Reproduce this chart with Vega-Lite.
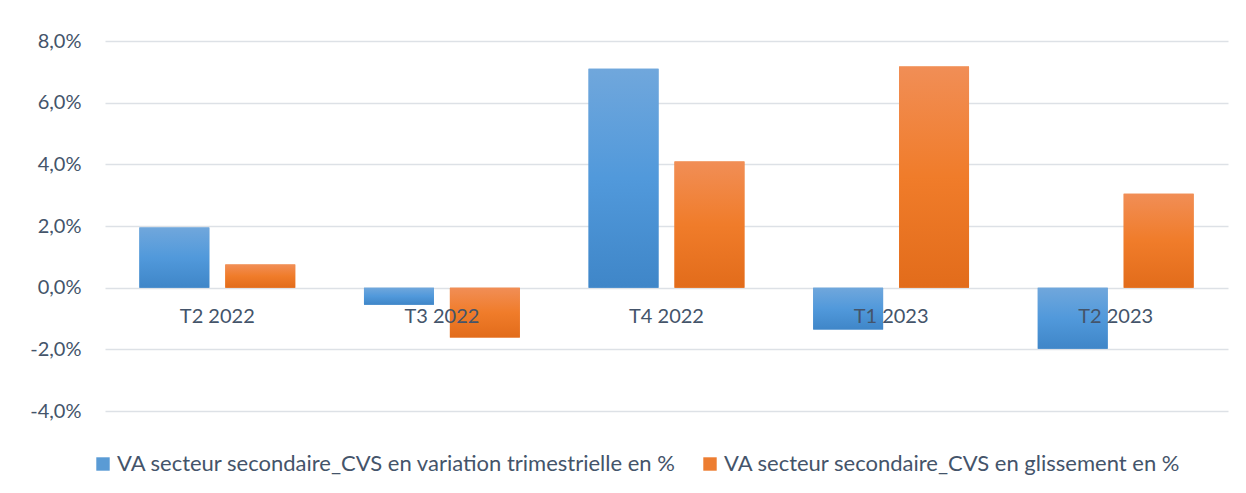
{
  "$schema": "https://vega.github.io/schema/vega-lite/v6.json",
  "width": 1123,
  "height": 370,
  "autosize": {"type": "none"},
  "padding": {"left": 105, "top": 41, "right": 18, "bottom": 82},
  "background": "white",
  "config": {
    "view": {"stroke": null},
    "font": "Lato",
    "axis": {"labelFont": "Lato", "labelColor": "#44546A", "labelFontSize": 20},
    "legend": {"labelFont": "Lato", "labelColor": "#44546A", "labelFontSize": 22}
  },
  "data": {
    "values": [
      {"quarter": "T2 2022", "series": "VA secteur secondaire_CVS en variation trimestrielle en %", "value": 1.95},
      {"quarter": "T2 2022", "series": "VA secteur secondaire_CVS en glissement en %", "value": 0.75},
      {"quarter": "T3 2022", "series": "VA secteur secondaire_CVS en variation trimestrielle en %", "value": -0.55},
      {"quarter": "T3 2022", "series": "VA secteur secondaire_CVS en glissement en %", "value": -1.62},
      {"quarter": "T4 2022", "series": "VA secteur secondaire_CVS en variation trimestrielle en %", "value": 7.1},
      {"quarter": "T4 2022", "series": "VA secteur secondaire_CVS en glissement en %", "value": 4.09},
      {"quarter": "T1 2023", "series": "VA secteur secondaire_CVS en variation trimestrielle en %", "value": -1.36},
      {"quarter": "T1 2023", "series": "VA secteur secondaire_CVS en glissement en %", "value": 7.17},
      {"quarter": "T2 2023", "series": "VA secteur secondaire_CVS en variation trimestrielle en %", "value": -1.98},
      {"quarter": "T2 2023", "series": "VA secteur secondaire_CVS en glissement en %", "value": 3.05}
    ]
  },
  "encoding": {
    "x": {
      "field": "quarter", "type": "nominal",
      "sort": ["T2 2022", "T3 2022", "T4 2022", "T1 2023", "T2 2023"],
      "scale": {"paddingInner": 0, "paddingOuter": 0},
      "axis": {"title": null, "domain": false, "ticks": false, "labelAngle": 0, "labelPadding": 19, "offset": -123.33, "zindex": 1}
    },
    "xOffset": {
      "field": "series", "type": "nominal",
      "sort": ["VA secteur secondaire_CVS en variation trimestrielle en %", "VA secteur secondaire_CVS en glissement en %"],
      "scale": {"paddingInner": 0.186, "paddingOuter": 0.4}
    },
    "y": {
      "field": "value", "type": "quantitative",
      "scale": {"domain": [-4, 8], "nice": false, "zero": false},
      "axis": {"title": null, "values": [-4, -2, 0, 2, 4, 6, 8], "domain": false, "ticks": false, "labelPadding": 24,
        "labelExpr": "replace(replace(format(datum.value, '.1f'), '.', ','), '\u2212', '-') + '%'",
        "grid": true, "gridColor": "#DDE1E6", "gridWidth": 1.5}
    }
  },
  "layer": [
    {
      "mark": {"type": "bar"},
      "encoding": {
        "color": {
          "field": "series", "type": "nominal",
          "sort": ["VA secteur secondaire_CVS en variation trimestrielle en %", "VA secteur secondaire_CVS en glissement en %"],
          "scale": {"range": ["#5A9BD5", "#ED7D31"]},
          "legend": {"title": null, "orient": "none", "direction": "horizontal", "legendX": -13, "legendY": 412,
            "symbolType": "square", "symbolSize": 180, "symbolStrokeWidth": 0, "labelOffset": 3, "columnPadding": 22,
            "labelLimit": 800, "symbolOpacity": 1}
        }
      }
    },
    {
      "transform": [{"filter": "datum.series == 'VA secteur secondaire_CVS en variation trimestrielle en %'"}],
      "mark": {"type": "bar", "color": {"gradient": "linear", "x1": 0, "y1": 0, "x2": 0, "y2": 1,
        "stops": [{"offset": 0, "color": "#70A7DC"}, {"offset": 0.5, "color": "#5199DB"}, {"offset": 1, "color": "#3F86C8"}]}}
    },
    {
      "transform": [{"filter": "datum.series == 'VA secteur secondaire_CVS en glissement en %'"}],
      "mark": {"type": "bar", "color": {"gradient": "linear", "x1": 0, "y1": 0, "x2": 0, "y2": 1,
        "stops": [{"offset": 0, "color": "#F18E56"}, {"offset": 0.5, "color": "#F07C2A"}, {"offset": 1, "color": "#E26C1B"}]}}
    }
  ]
}
